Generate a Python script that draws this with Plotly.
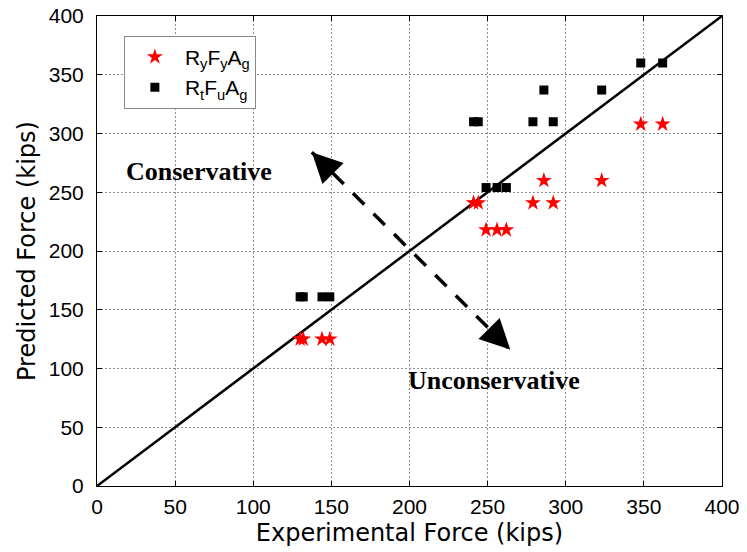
import plotly.graph_objects as go

# Experimental vs. predicted brace forces (kips)
exp_force = [130, 132, 144, 149, 241, 244, 249, 256, 262, 279, 286, 292, 323, 348, 362]
pred_ryfyag = [125, 125, 125, 125, 241, 241, 218, 218, 218, 241, 260, 241, 260, 308, 308]
pred_rtfuag = [161, 161, 161, 161, 310, 310, 254, 254, 254, 310, 337, 310, 337, 360, 360]

# 1:1 reference line
ref_line = [0, 400]

# Conservative / unconservative indicator (end points in data units)
arrow_x = [137.5, 264.5]
arrow_y = [284.0, 116.0]

tick_vals = [0, 50, 100, 150, 200, 250, 300, 350, 400]

fig = go.Figure()

fig.add_trace(go.Scatter(
    x=ref_line, y=ref_line, mode="lines",
    line=dict(color="black", width=2.5),
    showlegend=False, hoverinfo="skip",
))

fig.add_trace(go.Scatter(
    x=arrow_x, y=arrow_y, mode="lines",
    line=dict(color="black", width=3.5, dash="16px,13px"),
    showlegend=False, hoverinfo="skip",
))

fig.add_trace(go.Scatter(
    x=exp_force, y=pred_ryfyag, mode="markers",
    name="R<sub>y</sub>F<sub>y</sub>A<sub>g</sub>",
    marker=dict(symbol="star", color="red", size=12, line=dict(width=0)),
))

fig.add_trace(go.Scatter(
    x=exp_force, y=pred_rtfuag, mode="markers",
    name="R<sub>t</sub>F<sub>u</sub>A<sub>g</sub>",
    marker=dict(symbol="square", color="black", size=9, line=dict(width=0)),
))

# arrow heads at both ends of the dashed indicator
for i, (dx, dy) in enumerate([(15, 15), (-15, -15)]):
    fig.add_annotation(
        x=arrow_x[i], y=arrow_y[i], ax=dx, ay=dy,
        xref="x", yref="y", axref="pixel", ayref="pixel",
        showarrow=True, arrowhead=2, arrowsize=3, arrowwidth=2,
        arrowcolor="black", text="",
    )

serif = dict(family="Liberation Serif, Times New Roman, serif", size=26,
             color="black", weight="bold")
fig.add_annotation(x=65, y=268, text="Conservative", showarrow=False,
                   xref="x", yref="y", font=serif)
fig.add_annotation(x=254, y=90, text="Unconservative", showarrow=False,
                   xref="x", yref="y", font=serif)

axis_common = dict(
    range=[0, 400], tickvals=tick_vals, ticks="inside", ticklen=5,
    tickcolor="black", showline=True, linecolor="black", linewidth=1,
    mirror="ticks", showgrid=True, gridcolor="#8f8f8f", griddash="2px,2px",
    gridwidth=1, zeroline=False, automargin=False,
    tickfont=dict(family="Liberation Sans, Arial, sans-serif", size=21, color="black"),
    title_font=dict(family="DejaVu Sans, sans-serif", size=24, color="black"),
)

fig.update_layout(
    width=747, height=552, autosize=False,
    margin=dict(l=97, r=25, t=16, b=66),
    paper_bgcolor="white", plot_bgcolor="white",
    xaxis=dict(title=dict(text="Experimental Force (kips)", standoff=6),
               ticklabelstandoff=2, **axis_common),
    yaxis=dict(title=dict(text="Predicted Force (kips)", standoff=6),
               ticklabelstandoff=8, **axis_common),
    legend=dict(
        x=0.043, y=0.958, xanchor="left", yanchor="top",
        bgcolor="white", bordercolor="#888888", borderwidth=1,
        font=dict(family="Liberation Sans, Arial, sans-serif", size=21, color="black"),
        itemwidth=50, tracegroupgap=0,
    ),
)

fig.write_html("out.html")
